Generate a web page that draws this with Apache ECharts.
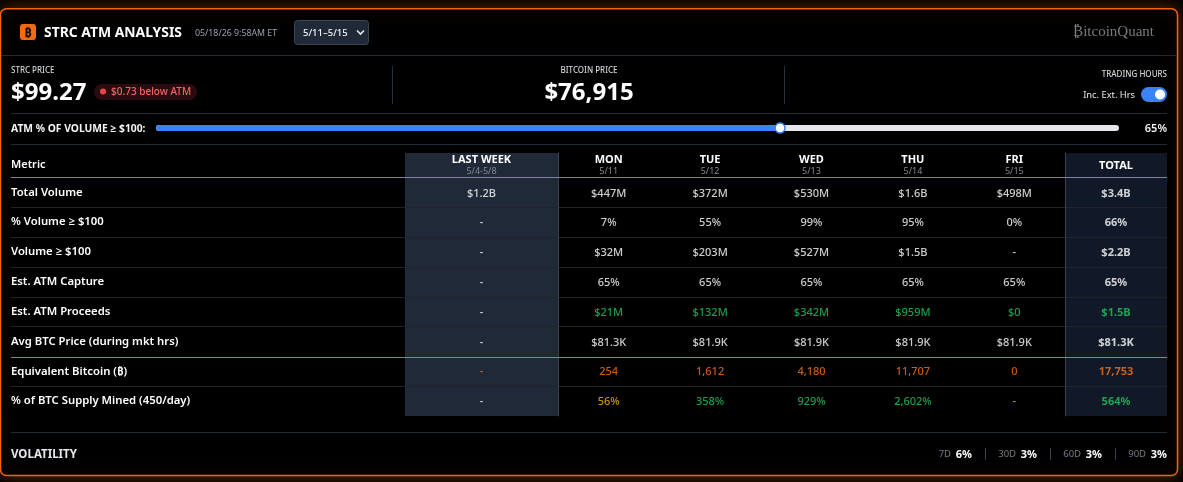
<!DOCTYPE html>
<html><head><meta charset="utf-8">
<style>html,body{margin:0;padding:0;background:#000}#c{width:1183px;height:482px}</style>
<script src="https://cdn.jsdelivr.net/npm/echarts@6/dist/echarts.min.js"></script>
</head><body><div id="c"></div>
<script>
const metrics = ['Total Volume','% Volume ≥ $100','Volume ≥ $100','Est. ATM Capture','Est. ATM Proceeds','Avg BTC Price (during mkt hrs)','Equivalent Bitcoin (₿)','% of BTC Supply Mined (450/day)'];
const dayNames = ['MON','TUE','WED','THU','FRI'];
const dayDates = ['5/11','5/12','5/13','5/14','5/15'];
const lastWeek = ['$1.2B','-','-','-','-','-','-','-'];
const mon = ['$447M','7%','$32M','65%','$21M','$81.3K','254','56%'];
const tue = ['$372M','55%','$203M','65%','$132M','$81.9K','1,612','358%'];
const wed = ['$530M','99%','$527M','65%','$342M','$81.9K','4,180','929%'];
const thu = ['$1.6B','95%','$1.5B','65%','$959M','$81.9K','11,707','2,602%'];
const fri = ['$498M','0%','-','65%','$0','$81.9K','0','-'];
const total = ['$3.4B','66%','$2.2B','65%','$1.5B','$81.3K','17,753','564%'];
const atmShare = 65;
const volLabels = ['7D','30D','60D','90D'];
const volValues = ['6%','3%','3%','3%'];

const FONT = '"Noto Sans","Open Sans",sans-serif';
const WHITE='#ffffff', GREEN='#22c55e', ORANGE='#f97316', YELLOW='#f2b90a', ORANGE_LINE='#f2640f';
const ROW_LINE='#222326', RULE='#1f2937', NONE='rgba(0,0,0,0)';
const rowColor = r => r===4?GREEN : r===6?ORANGE : WHITE;
const supplyColor = s => s==='56%'||s==='-' ? YELLOW : GREEN;

const columns = [
  {x:405,w:153,names:['LAST WEEK'],dates:['5/4-5/8'],cols:[lastWeek],bg:'#1f2937',pos:'right',edge:true,past:true},
  {x:558,w:507,names:dayNames,dates:dayDates,cols:[mon,tue,wed,thu,fri],bg:null},
  {x:1065,w:102,names:['TOTAL'],dates:[''],cols:[total],bg:'#111827',pos:'left',edge:true,bold:true}
];
const H_TOP=153,H_H=24.5,B_TOP=177.5,B_H=238.5;
const grid=[],xAxis=[],yAxis=[],series=[];
function addGrid(g,x,y){const i=grid.length;grid.push(Object.assign({containLabel:false,show:!!g.backgroundColor,borderWidth:0},g));
  xAxis.push(Object.assign({gridIndex:i},x));yAxis.push(Object.assign({gridIndex:i},y));return i;}
const hidden={show:false};
const rowSplit={show:true,lineStyle:{width:1,color:[NONE,ROW_LINE,ROW_LINE,ROW_LINE,ROW_LINE,ROW_LINE,NONE,ROW_LINE,NONE]}};

// metric column: row names are the y axis labels
addGrid({left:11,top:H_TOP,width:394,height:H_H},{type:'value',show:false},
  {type:'category',data:['Metric'],axisLine:hidden,axisTick:hidden,
   axisLabel:{inside:true,margin:0,align:'left',color:WHITE,fontFamily:FONT,fontSize:11,fontWeight:600,padding:[2,0,0,0]}});
addGrid({left:11,top:B_TOP,width:394,height:B_H},{type:'value',show:false},
  {type:'category',inverse:true,data:metrics,axisLine:hidden,axisTick:hidden,splitLine:rowSplit,
   axisLabel:{inside:true,margin:0,align:'left',color:WHITE,fontFamily:FONT,fontSize:11.3,fontWeight:600,padding:[2,0,0,0]}});

columns.forEach(c=>{
  const yEdge=c.edge?{show:true,onZero:false,lineStyle:{color:'#374151',width:1}}:hidden;
  // header
  addGrid({left:c.x,top:H_TOP,width:c.w,height:H_H,backgroundColor:c.bg||undefined,show:!!c.bg},
    {type:'category',data:c.names,position:'bottom',axisLine:hidden,axisTick:hidden,
     axisLabel:{inside:true,margin:c.bold?6:1,interval:0,lineHeight:11,
       formatter:(v,i)=>{const d=c.dates[i];return d?`{d|${v}}\n{s|${d}}`:`{d|${v}}`;},
       rich:{d:{color:WHITE,fontFamily:FONT,fontSize:11,fontWeight:700,lineHeight:12},
             s:{color:'#858a94',fontFamily:FONT,fontSize:9,lineHeight:11}}}},
    {type:'category',data:[''],position:c.pos||'left',axisLine:yEdge,axisTick:hidden,axisLabel:hidden});
  // body
  const g=addGrid({left:c.x,top:B_TOP,width:c.w,height:B_H,backgroundColor:c.bg||undefined,show:!!c.bg},
    {type:'category',data:c.names,show:false},
    {type:'category',inverse:true,data:metrics,position:c.pos||'left',axisLine:yEdge,axisTick:hidden,axisLabel:hidden,splitLine:rowSplit});
  const data=[];
  c.cols.forEach((col,ci)=>col.forEach((s,r)=>{
    let color=rowColor(r);
    if(c.past && r!==6) color=WHITE;
    else if(r===7) color=supplyColor(s);
    data.push({value:[ci,r],label:{formatter:s,color,fontWeight:c.bold?700:500}});
  }));
  series.push({type:'scatter',xAxisIndex:g,yAxisIndex:g,data,symbolSize:1,itemStyle:{color:NONE},silent:true,z:5,
    label:{show:true,position:'inside',offset:[0,1],fontFamily:FONT,fontSize:11}});
});

// slider as a bar on a value axis
const sg=addGrid({left:156,top:125,width:963,height:6},{type:'value',min:0,max:100.3,show:false},{type:'category',data:['ATM'],show:false});
series.push({type:'bar',xAxisIndex:sg,yAxisIndex:sg,data:[atmShare],barWidth:6,silent:true,
  itemStyle:{color:'#3b82f6',borderRadius:3},showBackground:true,backgroundStyle:{color:'#e5e7eb',borderRadius:3}});
series.push({type:'scatter',xAxisIndex:sg,yAxisIndex:sg,data:[[atmShare,0]],symbolSize:10,silent:true,z:6,
  itemStyle:{color:'#fff',borderColor:'#3b82f6',borderWidth:1.5,opacity:1}});

const T=(x,y,text,size,color,weight,align,family,extra)=>Object.assign({type:'text',x,y,z:10,silent:true,style:{text,fontSize:size,fill:color,fontWeight:weight||400,
  fontFamily:family||FONT,align:align||'left',verticalAlign:'middle'}},extra||{});
const L=(x1,y1,x2,y2,c,z)=>({type:'line',z:z||1,silent:true,shape:{x1,y1,x2,y2},style:{stroke:c,lineWidth:1}});
const R=(x,y,w,h,r,fill,stroke,z)=>({type:'rect',z:z||2,silent:true,shape:{x,y,width:w,height:h,r},style:{fill,stroke:stroke||null,lineWidth:1}});

const g=[
  {type:'rect',z:-10,silent:true,shape:{x:0.5,y:8.75,width:1177,height:466.75,r:6},
   style:{fill:'#000',stroke:'#ee6510',lineWidth:1.5,shadowBlur:18,shadowColor:'rgba(249,115,22,0.38)'}},
  R(20,24,16,16,3,'#f26a12'),
  T(28,33,'₿',13,'#1a0c02',700,'center'),
  T(44,33.5,'STRC ATM ANALYSIS',13.9,'#ffffff',700),
  T(195,33.5,'05/18/26 9:58AM ET',8.8,'#9ca3af',400),
  R(294.5,20.5,74,24,3,'#1f2937','#3b4656'),
  T(303,33,'5/11–5/15',9.5,'#f3f4f6',500),
  {type:'polyline',z:3,silent:true,shape:{points:[[357,30.5],[360.5,34],[364,30.5]]},style:{stroke:'#e5e7eb',lineWidth:1.6,fill:null}},
  T(1154,32.5,'₿itcoinQuant',15,'#7b7b7b',400,'right','"Liberation Serif",serif'),
  L(1,55.5,1177,55.5,RULE),
  T(11,71,'STRC PRICE',8,'#d1d5db',500),
  T(11,93.5,'$99.27',24,'#fff',700),
  R(94,84,103,16,8,'#2a0c10'),
  {type:'circle',z:3,silent:true,shape:{cx:103,cy:91.5,r:3},style:{fill:'#ef4444'}},
  T(111,92,'$0.73 below ATM',10,'#f56565',500),
  L(392.5,66,392.5,104,'#263244'),
  T(589,71,'BITCOIN PRICE',8,'#d1d5db',500,'center'),
  T(589,93.5,'$76,915',24,'#fff',700,'center'),
  L(784.5,66,784.5,104,'#263244'),
  T(1167,75,'TRADING HOURS',8,'#d1d5db',500,'right'),
  T(1135,95,'Inc. Ext. Hrs',9.3,'#e5e7eb',400,'right'),
  R(1141,87,26,15,7.5,'#3b82f6'),
  {type:'circle',z:3,silent:true,shape:{cx:1160,cy:94.5,r:5},style:{fill:'#fff'}},
  L(11,113.5,1167,113.5,RULE),
  T(11,129,'ATM % OF VOLUME ≥ $100:',10.3,'#f3f4f6',700),
  T(1167,128.5,atmShare+'%',11,'#f3f4f6',600,'right'),
  L(11,144.5,1167,144.5,RULE),
  L(11,177.5,1167,177.5,ORANGE_LINE,8),
  L(11,357.5,1167,357.5,ORANGE_LINE,8),
  L(11,432.5,1167,432.5,RULE),
  T(11,455,'VOLATILITY',11.5,'#e5e7eb',700)
];
const volEnds=[972,1037,1102,1167];
volEnds.forEach((e,i)=>{
  g.push(T(e,454.5,volValues[i],11,'#ffffff',700,'right'));
  g.push(T(e-21,454.5,volLabels[i],9.5,'#767c88',400,'right'));
  if(i<3) g.push(L(e+13.5,448,e+13.5,460,'#374151'));
});

const chart=echarts.init(document.getElementById('c'));
chart.setOption({animation:false,backgroundColor:'#000',textStyle:{fontFamily:FONT},grid,xAxis,yAxis,series,graphic:{elements:g}});
</script></body></html>
